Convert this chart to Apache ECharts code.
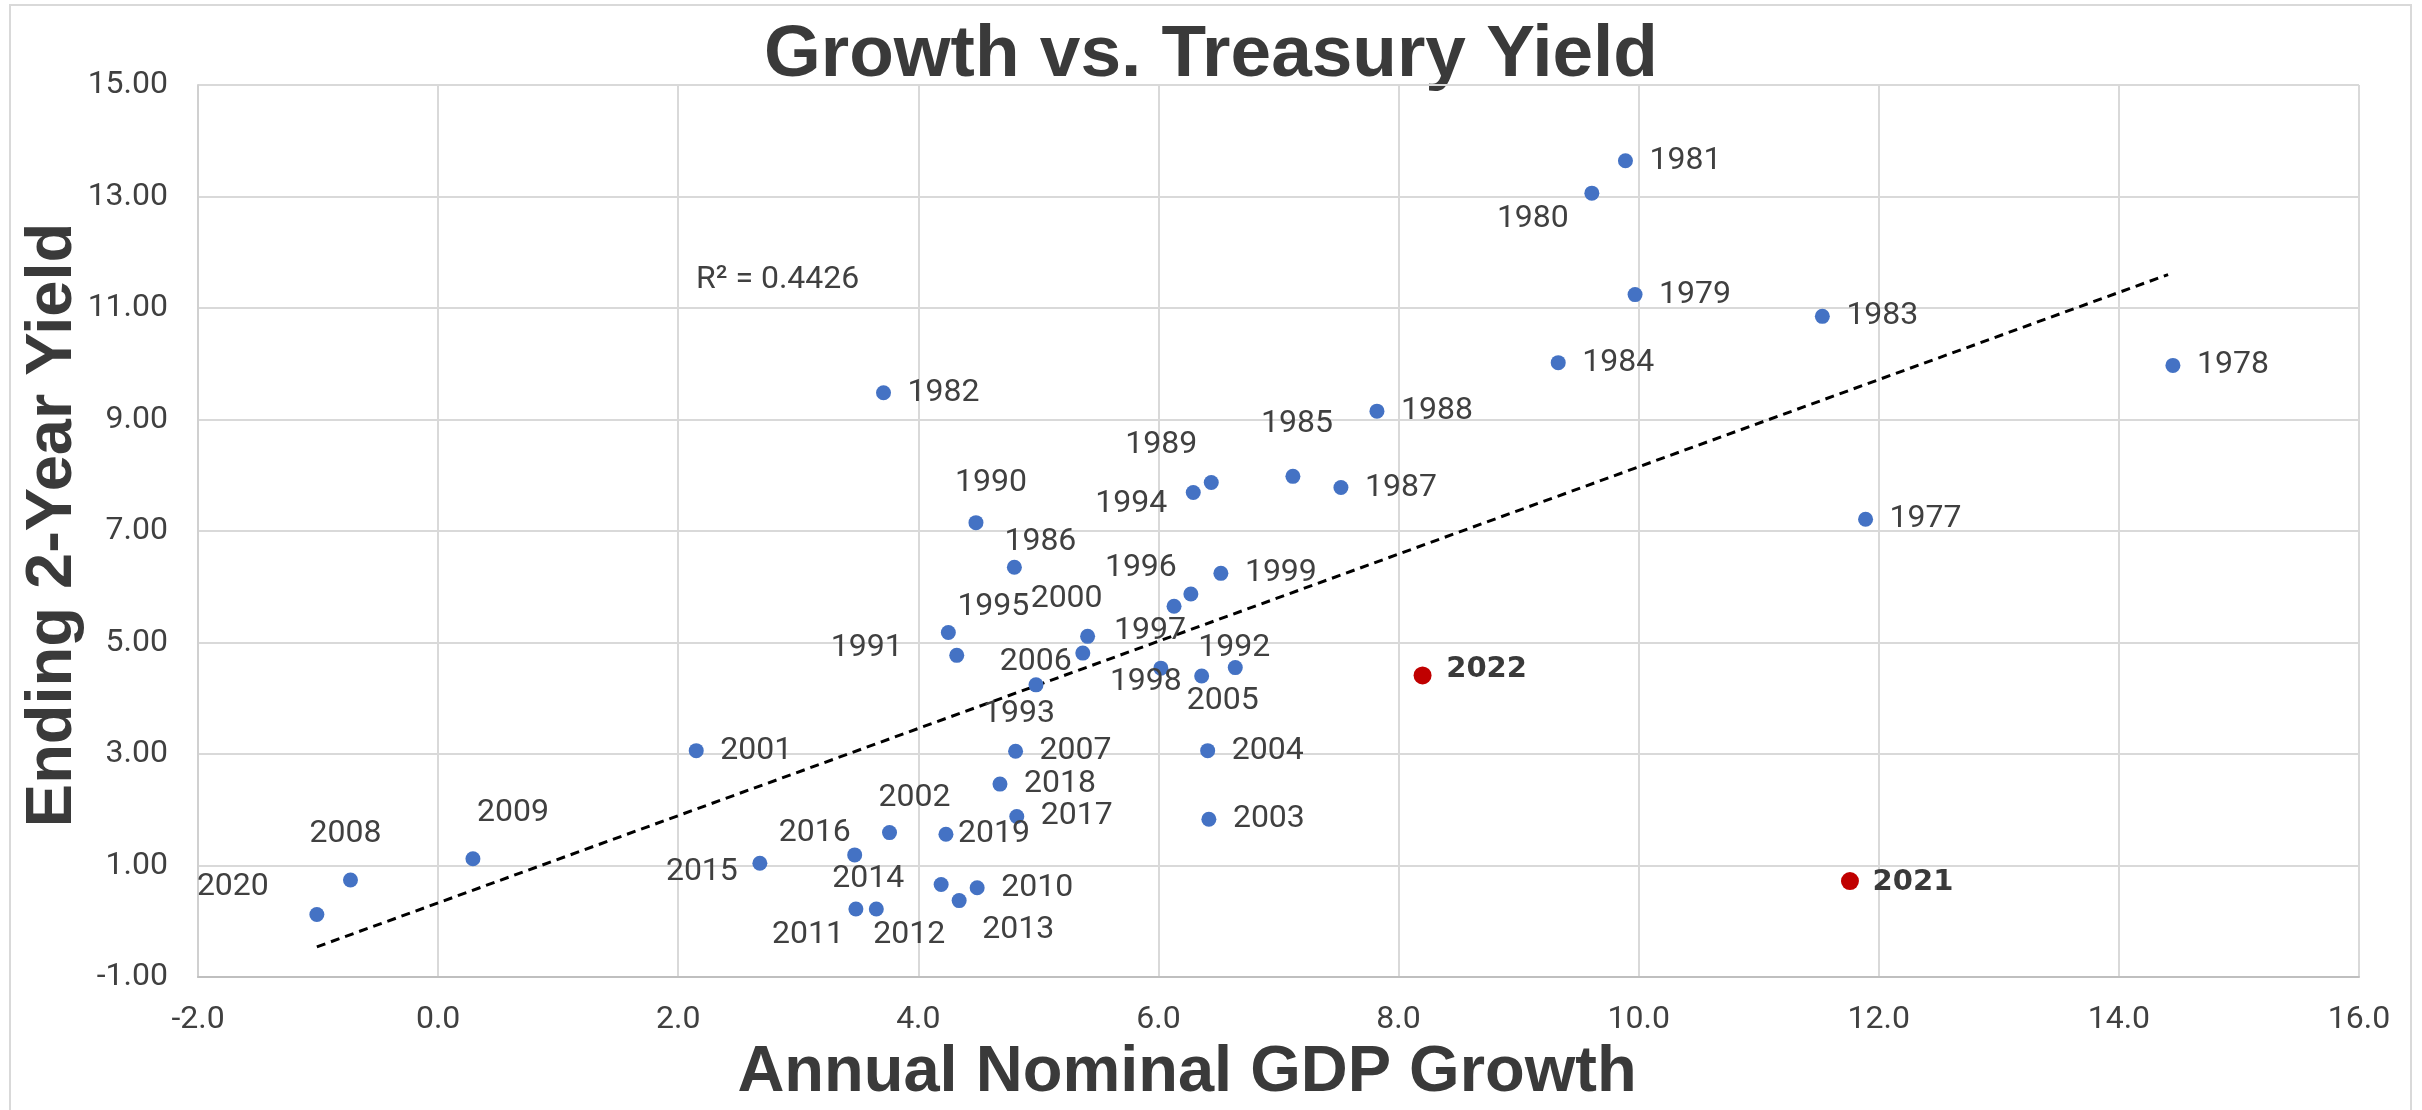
<!DOCTYPE html>
<html>
<head>
<meta charset="utf-8">
<script src="https://cdn.jsdelivr.net/npm/echarts@6/dist/echarts.min.js"></script>
<style>
html,body{margin:0;padding:0;background:#fff;}
#container{width:2422px;height:1110px;}
</style>
</head>
<body>
<div id="container"></div>
<script>
// year-end 2y yield vs nominal GDP growth
var years = [1977, 1978, 1979, 1980, 1981, 1982, 1983, 1984, 1985, 1986, 1987, 1988, 1989, 1990,
             1991, 1992, 1993, 1994, 1995, 1996, 1997, 1998, 1999, 2000, 2001, 2002, 2003, 2004,
             2005, 2006, 2007, 2008, 2009, 2010, 2011, 2012, 2013, 2014, 2015, 2016, 2017, 2018,
             2019, 2020];
var gdpGrowth = [11.89, 14.45, 9.97, 9.61, 9.89, 3.71, 11.53, 9.33, 7.12, 4.80, 7.52, 7.82, 6.44, 4.48,
                 4.32, 6.64, 4.98, 6.29, 4.25, 6.27, 6.13, 6.02, 6.52, 5.41, 2.15, 3.76, 6.42, 6.41,
                 6.36, 5.37, 4.81, -0.73, 0.29, 4.49, 3.48, 3.65, 4.34, 4.19, 2.68, 3.47, 4.82, 4.68,
                 4.23, -1.01];
var yield2y = [7.21, 9.97, 11.24, 13.06, 13.64, 9.48, 10.85, 10.02, 7.98, 6.35, 7.78, 9.15, 7.87, 7.15,
               4.77, 4.55, 4.24, 7.69, 5.18, 5.87, 5.65, 4.54, 6.24, 5.11, 3.06, 1.59, 1.83, 3.06,
               4.40, 4.81, 3.05, 0.74, 1.12, 0.60, 0.22, 0.22, 0.37, 0.66, 1.04, 1.19, 1.88, 2.46,
               1.56, 0.12];
// highlighted years
var hlYears = [2021, 2022];
var hlGrowth = [11.76, 8.20];
var hlYield = [0.72, 4.41];
// dotted trendline ends, as drawn in the picture
var trendX = [-1.01, 14.41];
var trendY = [-0.46, 11.60];
var rSquaredText = 'R² = 0.4426';

// label placement (label centre relative to the dot, px)
var labelOffset = {
    1980: [-59, 26], 1985: [4, -52], 1989: [-50, -37], 1994: [-62, 11], 1990: [15, -40],
    1986: [26, -25], 1996: [-50, -26], 1995: [45, -25], 2000: [-21, -37], 1997: [-24, 25],
    1991: [-90, -7], 2006: [-47, 9], 1993: [-17, 29], 1998: [-15, 14], 1992: [-1, -20],
    2005: [21, 25], 2020: [-84, -28], 2008: [-5, -46], 2009: [40, -46], 2015: [-58, 9],
    2016: [-40, -22], 2014: [-73, -5], 2011: [-48, 26], 2012: [33, 26], 2002: [25, -35],
    2019: [48, 0], 2013: [59, 29], 2021: [63, 1], 2022: [64, -6]
};

var blueData = [];
for (var i = 0; i < years.length; i++) {
    blueData.push({
        name: String(years[i]),
        value: [gdpGrowth[i], yield2y[i]],
        label: {offset: labelOffset[years[i]] || [60, 0]}
    });
}
var redData = [];
for (var j = 0; j < hlYears.length; j++) {
    redData.push({
        name: String(hlYears[j]),
        value: [hlGrowth[j], hlYield[j]],
        label: {offset: labelOffset[hlYears[j]] || [63, 0]}
    });
}
var trend = [];
for (var k = 0; k < trendX.length; k++) {
    trend.push([trendX[k], trendY[k]]);
}

var dom = document.getElementById("container");
var myChart = echarts.init(dom, null, {renderer: 'canvas'});
var option = {
    animation: false,
    backgroundColor: '#fff',
    grid: {left: 198, right: 63, top: 85, bottom: 133},
    xAxis: {
        type: 'value', min: -2, max: 16, interval: 2,
        axisLine: {show: true, onZero: false, lineStyle: {color: '#bfbfbf', width: 2}},
        axisTick: {show: false},
        splitLine: {show: true, lineStyle: {color: '#d9d9d9', width: 2}},
        axisLabel: {
            margin: 27, fontSize: 32, fontFamily: 'Roboto', color: '#404040',
            formatter: function (v) { return v.toFixed(1); }
        }
    },
    yAxis: {
        type: 'value', min: -1, max: 15, interval: 2,
        axisLine: {show: true, onZero: false, lineStyle: {color: '#d0d0d0', width: 2}},
        axisTick: {show: false},
        splitLine: {show: true, lineStyle: {color: '#d9d9d9', width: 2}},
        axisLabel: {
            margin: 30, fontSize: 32, fontFamily: 'Roboto', color: '#404040',
            formatter: function (v) { return v.toFixed(2); }
        }
    },
    series: [
        {
            name: 'trend', type: 'line', data: trend, showSymbol: false, silent: true,
            z: 3,
            lineStyle: {color: '#000', width: 3, type: [9, 6]}
        },
        {
            name: 'years', type: 'scatter', data: blueData, symbolSize: 15, z: 4,
            itemStyle: {color: '#4472C4', opacity: 1},
            label: {
                show: true, position: 'inside', formatter: '{b}',
                align: 'center', verticalAlign: 'middle',
                fontSize: 32, fontFamily: 'Roboto', color: '#404040'
            }
        },
        {
            name: 'recent', type: 'scatter', data: redData, symbolSize: 18, z: 4,
            itemStyle: {color: '#C00000', opacity: 1},
            label: {
                show: true, position: 'inside', formatter: '{b}',
                align: 'center', verticalAlign: 'middle',
                fontSize: 29, fontWeight: 'bold', fontFamily: 'DejaVu Sans', color: '#3a3a3a'
            }
        }
    ],
    graphic: [
        {
            type: 'rect', silent: true, z: -1,
            shape: {x: 10, y: 5, width: 2401, height: 1120},
            style: {fill: 'none', stroke: '#d9d9d9', lineWidth: 2}
        },
        {
            type: 'text', x: 1211, y: 56,
            style: {text: 'Growth vs. Treasury Yield', align: 'center', verticalAlign: 'middle',
                    font: 'bold 73px "Liberation Sans"', fill: '#3a3a3a'}
        },
        {
            type: 'text', x: 1187, y: 1073,
            style: {text: 'Annual Nominal GDP Growth', align: 'center', verticalAlign: 'middle',
                    font: 'bold 65px "Liberation Sans"', fill: '#3a3a3a'}
        },
        {
            type: 'text', x: 53, y: 525, rotation: Math.PI / 2,
            style: {text: 'Ending 2-Year Yield', align: 'center', verticalAlign: 'middle',
                    font: 'bold 65px "Liberation Sans"', fill: '#3a3a3a'}
        },
        {
            type: 'text', x: 696, y: 280,
            style: {text: rSquaredText, align: 'left', verticalAlign: 'middle',
                    font: '32px Roboto', fill: '#404040'}
        }
    ]
};
myChart.setOption(option);
</script>
</body>
</html>
